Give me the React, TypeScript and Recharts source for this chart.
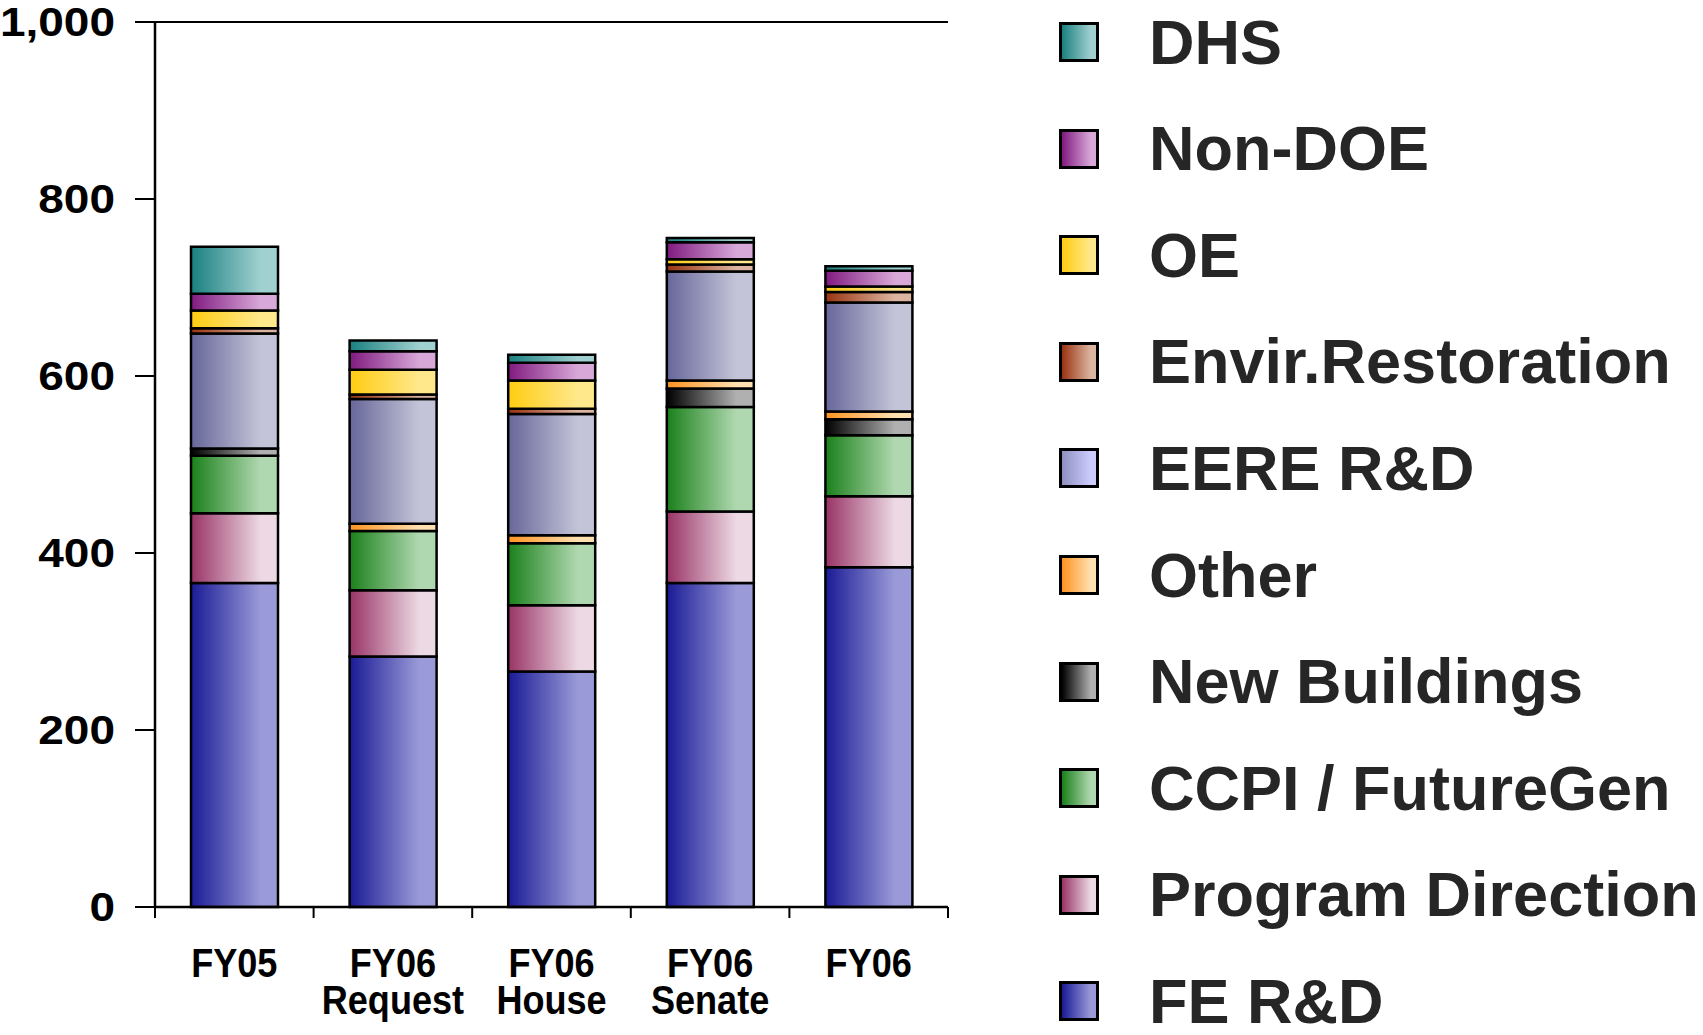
import React from 'react';
import { BarChart, Bar, XAxis, YAxis, CartesianGrid } from 'recharts';

// budget categories along the x axis (second line after \n)
const categories = ['FY05', 'FY06\nRequest', 'FY06\nHouse', 'FY06\nSenate', 'FY06'];

// stacked segments, bottom to top ($ millions)
const feRD = [366, 283, 266, 366, 384];
const programDirection = [79, 75, 75, 81, 80];
const ccpiFutureGen = [65, 67, 70, 118, 69];
const newBuildings = [8, 0, 0, 21, 18];
const other = [0, 8, 9, 9, 9];
const eereRD = [130, 141, 137, 123, 123];
const envirRestoration = [6, 5, 6, 8, 12];
const oe = [20, 28, 32, 6, 6];
const nonDoe = [19, 21, 20, 19, 18];
const dhs = [53, 12, 9, 5, 5];

const yTicks = [0, 200, 400, 600, 800, 1000];
const edgeTicks = [0, 1, 2, 3, 4, 5];

const series = [
  { key: 'feRD', name: 'FE R&D', values: feRD, dark: '#1a1a96', light: '#9a9ad8' },
  { key: 'programDirection', name: 'Program Direction', values: programDirection, dark: '#993366', light: '#ecd9e3' },
  { key: 'ccpi', name: 'CCPI / FutureGen', values: ccpiFutureGen, dark: '#1a801a', light: '#b0d8b0' },
  { key: 'newBuildings', name: 'New Buildings', values: newBuildings, dark: '#000000', light: '#b0b0b0' },
  { key: 'other', name: 'Other', values: other, dark: '#ff9320', light: '#ffe0b0' },
  { key: 'eereRD', name: 'EERE R&D', values: eereRD, dark: '#66669a', light: '#c4c4d8', legendDark: '#9090c0', legendLight: '#ccccff' },
  { key: 'envirRestoration', name: 'Envir.Restoration', values: envirRestoration, dark: '#993311', light: '#dcb5a0' },
  { key: 'oe', name: 'OE', values: oe, dark: '#ffcc11', light: '#ffe88c' },
  { key: 'nonDoe', name: 'Non-DOE', values: nonDoe, dark: '#801a80', light: '#d8a8d8' },
  { key: 'dhs', name: 'DHS', values: dhs, dark: '#1a8080', light: '#a0d0d0' },
];

// pos = category centre on a 0..5 scale, used by the boundary-tick axis
const data = categories.map((name, i) => {
  const row: any = { name, pos: i + 0.5 };
  series.forEach((s) => { row[s.key] = s.values[i]; });
  return row;
});

const FONT = '"Liberation Sans", Arial, Helvetica, sans-serif';

const YTick = ({ x, y, payload }: any) => (
  <g transform={`translate(${x},${y}) scale(1.15,1)`}>
    <text x={0} y={0} dy="0.36em" textAnchor="end" fontFamily={FONT} fontWeight="bold" fontSize={40} fill="#000">
      {payload.value.toLocaleString('en-US')}
    </text>
  </g>
);

const CatTick = ({ x, y, payload }: any) => {
  const lines = String(payload.value).split('\n');
  return (
    <g transform={`translate(${x},${y}) scale(0.88,1)`}>
      {lines.map((l, i) => (
        <text key={i} x={0} y={61 + i * 37} textAnchor="middle" fontFamily={FONT} fontWeight="bold" fontSize={41} fill="#000">
          {l}
        </text>
      ))}
    </g>
  );
};

// boundary tick marks only, no labels
const NoLabel = () => <g />;

export default function App() {
  const legendItems = [...series].reverse();
  return (
    <div style={{ position: 'absolute', left: 0, top: 0, width: 1703, height: 1035, background: '#fff', overflow: 'hidden' }}>
      <BarChart
        width={960}
        height={1035}
        data={data}
        margin={{ top: 22, right: 12, bottom: 0, left: 0 }}
        barSize={87}
      >
        <defs>
          {series.map((s) => (
            <linearGradient key={s.key} id={`g-${s.key}`} x1="0" y1="0" x2="1" y2="0">
              <stop offset="0%" stopColor={s.dark} />
              <stop offset="80%" stopColor={s.light} />
              <stop offset="100%" stopColor={s.light} />
            </linearGradient>
          ))}
        </defs>
        <CartesianGrid vertical={false} stroke="#000" strokeWidth={2} />
        <XAxis
          xAxisId="zCat"
          dataKey="name"
          height={127}
          axisLine={false}
          tickLine={false}
          interval={0}
          tick={<CatTick />}
        />
        <XAxis
          xAxisId="aEdges"
          dataKey="pos"
          type="number"
          domain={[0, 5]}
          ticks={edgeTicks}
          interval={0}
          allowDataOverflow
          height={1}
          tick={<NoLabel />}
          tickSize={11}
          axisLine={{ stroke: '#000', strokeWidth: 2.5 }}
          tickLine={{ stroke: '#000', strokeWidth: 2 }}
        />
        <YAxis
          yAxisId="left"
          domain={[0, 1000]}
          ticks={yTicks}
          width={155}
          tickSize={20}
          tickMargin={20}
          axisLine={{ stroke: '#000', strokeWidth: 2.5 }}
          tickLine={{ stroke: '#000', strokeWidth: 2 }}
          tick={<YTick />}
        />
        <YAxis
          yAxisId="right"
          orientation="right"
          domain={[0, 1000]}
          width={0}
          tick={false}
          tickLine={false}
          axisLine={{ stroke: '#000', strokeWidth: 2.5 }}
        />
        {series.map((s) => (
          <Bar
            key={s.key}
            dataKey={s.key}
            name={s.name}
            stackId="a"
            xAxisId="zCat"
            yAxisId="left"
            fill={`url(#g-${s.key})`}
            stroke="#000"
            strokeWidth={2.5}
            isAnimationActive={false}
          />
        ))}
      </BarChart>
      {legendItems.map((s, i) => (
        <div
          key={s.key}
          style={{
            position: 'absolute',
            left: 1059,
            top: 42 + i * 106.6 - 30,
            height: 60,
            display: 'flex',
            alignItems: 'center',
            whiteSpace: 'nowrap',
          }}
        >
          <div
            style={{
              width: 34,
              height: 34,
              border: '3px solid #000',
              background: `linear-gradient(to right, ${s.legendDark || s.dark}, ${s.legendLight || s.light} 85%)`,
            }}
          />
          <span
            style={{
              marginLeft: 50,
              fontFamily: FONT,
              fontWeight: 'bold',
              fontSize: 63,
              color: '#262626',
              lineHeight: 1,
            }}
          >
            {s.name}
          </span>
        </div>
      ))}
    </div>
  );
}
